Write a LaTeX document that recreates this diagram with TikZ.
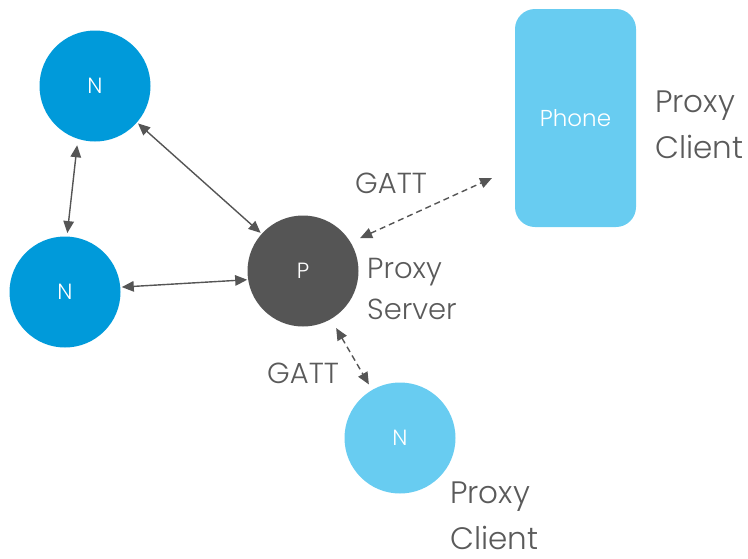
\documentclass[tikz,border=0pt]{standalone}
\usepackage{fontspec}
\setmainfont{Poppins}[UprightFont=* Light]
\usetikzlibrary{arrows.meta}
\definecolor{meshblue}{RGB}{0,154,218}
\definecolor{lightblue}{RGB}{104,204,241}
\definecolor{proxygray}{RGB}{85,85,85}
\definecolor{labelgray}{RGB}{90,90,90}
\tikzset{
  dev/.style={circle, minimum size=111pt, inner sep=0pt, outer sep=0pt, text=white,
              font=\fontsize{22}{26}\selectfont},
  meshnode/.style={dev, fill=meshblue},
  clientnode/.style={dev, fill=lightblue},
  servernode/.style={dev, fill=proxygray},
  phonebox/.style={rectangle, rounded corners=20pt, fill=lightblue, minimum width=121pt,
                   minimum height=218pt, inner sep=0pt, outer sep=0pt, text=white,
                   font=\fontsize{23}{27}\selectfont},
  biglabel/.style={anchor=base west, inner sep=0pt, text=labelgray,
                   font=\fontsize{31}{36}\selectfont},
  midlabel/.style={anchor=base west, inner sep=0pt, text=labelgray,
                   font=\fontsize{29}{34}\selectfont},
  link/.style={draw=proxygray, line width=1.4pt, >={Triangle[length=12pt, width=10.5pt]}, <->},
  gatt/.style={link, dash pattern=on 6pt off 4pt},
}
\begin{document}
\begin{tikzpicture}[x=1pt, y=-1pt]
\useasboundingbox (0,0) rectangle (748,558);

% devices
\node[meshnode]   (n1) at (95,86)   {N};
\node[meshnode]   (n2) at (65,292)  {N};
\node[servernode] (p)  at (303,271) {P};
\node[clientnode] (n3) at (400,438) {N};
\node[phonebox]   (ph) at (575.5,118) {Phone};

% role labels
\node[biglabel] (phA) at (655,112) {Proxy};
\node[biglabel] (phB) at (655,158) {Client};
\node[midlabel] (psA) at (367,278) {Proxy};
\node[midlabel] (psB) at (367,319) {Server};
\node[biglabel] (ncA) at (450,503) {Proxy};
\node[biglabel] (ncB) at (450,549) {Client};
\node[midlabel] (gA)  at (355,193) {GATT};
\node[midlabel] (gB)  at (267,383) {GATT};

% mesh links
\draw[link, shorten <=6.5pt, shorten >=3.5pt] (n1.252) -- (n2.88);
\draw[link, shorten <=1.5pt, shorten >=1.5pt] (n1.319) -- (p.138.5);
\draw[link, shorten <=1.5pt, shorten >=1pt]   (n2.5)   -- (p.189);

% GATT proxy links
\coordinate (phtip) at (492,178);
\draw[gatt, shorten <=10.5pt] (p.31) -- (phtip);
\draw[gatt, shorten <=10.5pt, shorten >=6.5pt] (p) -- (n3);
\end{tikzpicture}
\end{document}
